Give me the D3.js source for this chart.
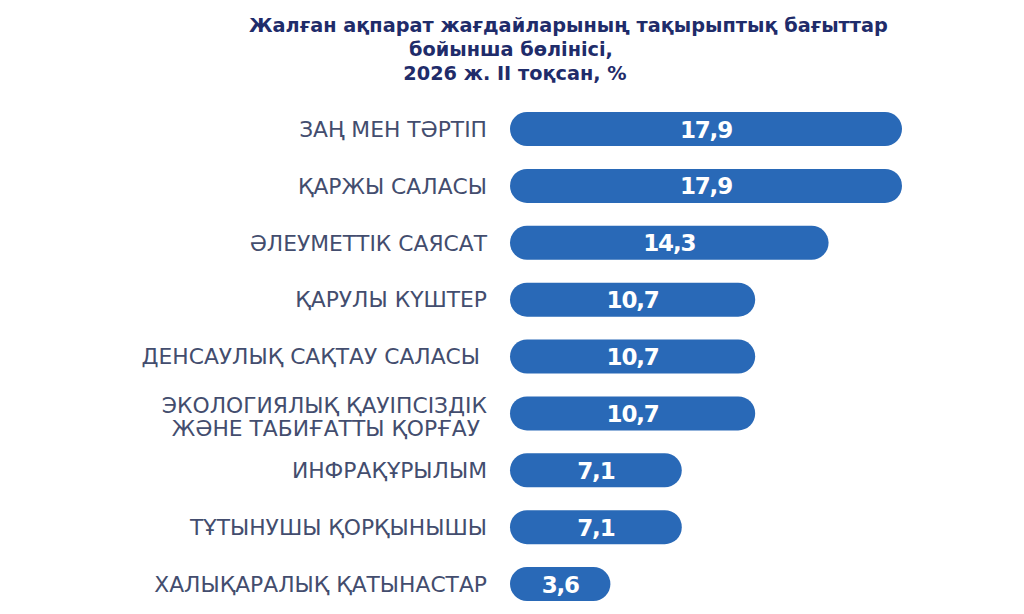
<!DOCTYPE html>
<html>
<head>
<meta charset="utf-8">
<script src="https://cdn.jsdelivr.net/npm/d3@7"></script>
<style>
  html, body { margin: 0; padding: 0; background: #ffffff; }
  svg { display: block; }
</style>
</head>
<body>
<svg id="chart" width="1024" height="614"></svg>
<script>
// ---- data ----
const categories = [
  "ЗАҢ МЕН ТӘРТІП",
  "ҚАРЖЫ САЛАСЫ",
  "ӘЛЕУМЕТТІК САЯСАТ",
  "ҚАРУЛЫ КҮШТЕР",
  "ДЕНСАУЛЫҚ САҚТАУ САЛАСЫ ",
  "ЭКОЛОГИЯЛЫҚ ҚАУІПСІЗДІК|ЖӘНЕ ТАБИҒАТТЫ ҚОРҒАУ ",
  "ИНФРАҚҰРЫЛЫМ",
  "ТҰТЫНУШЫ ҚОРҚЫНЫШЫ",
  "ХАЛЫҚАРАЛЫҚ ҚАТЫНАСТАР"
];
const values = [17.9, 17.9, 14.3, 10.7, 10.7, 10.7, 7.1, 7.1, 3.6];
const titleLines = [
  "Жалған ақпарат жағдайларының тақырыптық бағыттар",
  "бойынша бөлінісі,",
  "2026 ж. II тоқсан, %"
];

// ---- layout ----
const svg = d3.select("#chart");
const barLeft = 510;
const barH = 34;
const x = d3.scaleLinear().domain([0, d3.max(values)]).range([537, 902]);
const y = d3.scalePoint().domain(categories).range([129, 584]);
const fmt = v => d3.format(".1f")(v).replace(".", ",");

const barColor = "#2969b7";
const labelColor = "#434d6e";
const titleColor = "#1f2c6a";

// title
const title = svg.append("g").attr("font-family", "'DejaVu Sans', sans-serif")
  .attr("font-weight", "bold").attr("font-size", 19.3).attr("fill", titleColor);
title.append("text").attr("x", 249).attr("y", 32).attr("text-anchor", "start").text(titleLines[0]);
title.append("text").attr("x", 511).attr("y", 56).attr("text-anchor", "middle").text(titleLines[1]);
title.append("text").attr("x", 515).attr("y", 80).attr("text-anchor", "middle").text(titleLines[2]);

// bars
const data = categories.map((c, i) => ({ c, v: values[i] }));
const rows = svg.append("g").selectAll("g").data(data).join("g");

rows.append("rect")
  .attr("x", barLeft)
  .attr("y", d => y(d.c) - barH / 2)
  .attr("width", d => x(d.v) - barLeft)
  .attr("height", barH)
  .attr("rx", barH / 2)
  .attr("fill", barColor);

rows.append("text")
  .attr("x", d => (barLeft + x(d.v)) / 2)
  .attr("y", d => y(d.c))
  .attr("dy", "0.37em")
  .attr("text-anchor", "middle")
  .attr("font-family", "'DejaVu Sans', sans-serif")
  .attr("font-weight", "bold")
  .attr("font-size", 23)
  .attr("letter-spacing", -1.2)
  .attr("fill", "#ffffff")
  .text(d => fmt(d.v));

// category labels
rows.each(function(d) {
  const lines = d.c.split("|");
  const t = d3.select(this).append("text")
    .attr("x", 487)
    .attr("y", y(d.c))
    .attr("text-anchor", "end")
    .attr("font-family", "'DejaVu Sans', sans-serif")
    .attr("font-size", 21.8)
    .attr("fill", labelColor)
    .style("white-space", "pre");
  const lh = 23;
  const off = -(lines.length - 1) * lh / 2 + (lines.length > 1 ? 3 : 0);
  lines.forEach((ln, i) => {
    t.append("tspan").attr("x", 487).attr("y", y(d.c) + off + i * lh).attr("dy", "0.36em").text(ln);
  });
});
</script>
</body>
</html>
